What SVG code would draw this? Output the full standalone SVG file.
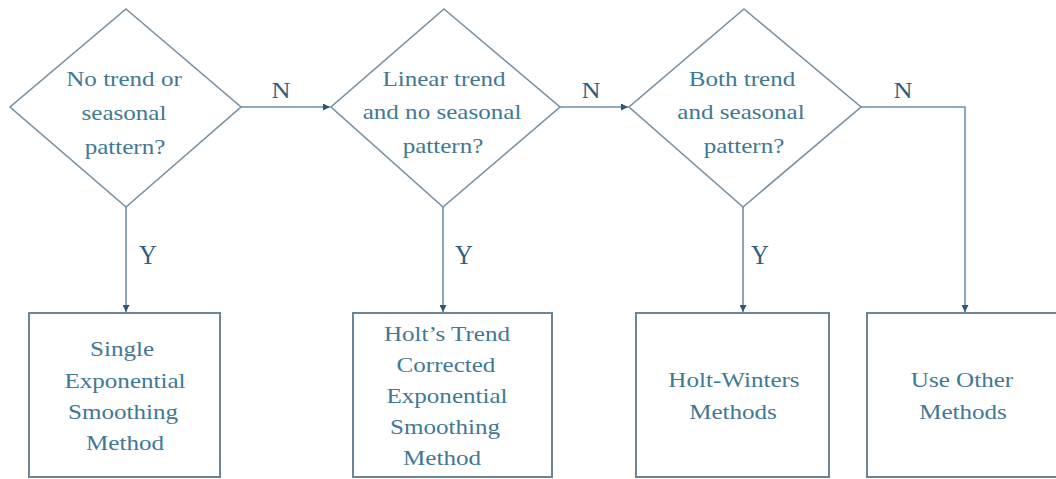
<svg xmlns="http://www.w3.org/2000/svg" width="1056" height="479" viewBox="0 0 1056 479">
<defs>
<marker id="arr" viewBox="0 0 10 10" refX="10" refY="5" markerWidth="8" markerHeight="7" markerUnits="userSpaceOnUse" orient="auto">
<path d="M0,0 L10,5 L0,10 Z" fill="#2c5877"/>
</marker>
<style>
.shape{fill:#ffffff;stroke:#7890a4;stroke-width:1.6}
.box{fill:#ffffff;stroke:#6d8599;stroke-width:2}
.conn{fill:none;stroke:#6f8ea6;stroke-width:1.6}
.t{font-family:"Liberation Serif","Times New Roman",serif;font-size:22px;fill:#3f7994;text-anchor:middle}
.lbl{font-family:"Liberation Serif","Times New Roman",serif;fill:#2f5f7d;text-anchor:middle}
</style>
</defs>
<rect width="1056" height="479" fill="#ffffff"/>

<g id="connectors">
<path class="conn" d="M241,107 H330" marker-end="url(#arr)"/>
<path class="conn" d="M560,107 H628" marker-end="url(#arr)"/>
<path class="conn" d="M861,107 H965 V312" marker-end="url(#arr)"/>
<path class="conn" d="M126,207 V312" marker-end="url(#arr)"/>
<path class="conn" d="M443,207 V312" marker-end="url(#arr)"/>
<path class="conn" d="M743,207 V312" marker-end="url(#arr)"/>
<text class="lbl" font-size="24" transform="matrix(1.1 0 0 1 281 98)">N</text>
<text class="lbl" font-size="24" transform="matrix(1.1 0 0 1 591 98)">N</text>
<text class="lbl" font-size="24" transform="matrix(1.1 0 0 1 903 98)">N</text>
<text class="lbl" font-size="28" transform="matrix(0.88 0 0 1 148 264)">Y</text>
<text class="lbl" font-size="28" transform="matrix(0.88 0 0 1 464 264)">Y</text>
<text class="lbl" font-size="28" transform="matrix(0.88 0 0 1 760 264)">Y</text>
</g>

<g id="d1">
<polygon class="shape" points="126,9 241,107 126,207 10,107"/>
<text class="t" transform="matrix(1.14 0 0 1 124 86)">No trend or</text>
<text class="t" transform="matrix(1.14 0 0 1 124 120)">seasonal</text>
<text class="t" transform="matrix(1.14 0 0 1 125 154)">pattern?</text>
</g>

<g id="d2">
<polygon class="shape" points="444,9 560,107 443,207 331,107"/>
<text class="t" transform="matrix(1.14 0 0 1 444 86)">Linear trend</text>
<text class="t" transform="matrix(1.14 0 0 1 442 119)">and no seasonal</text>
<text class="t" transform="matrix(1.14 0 0 1 443 153)">pattern?</text>
</g>

<g id="d3">
<polygon class="shape" points="744,9 861,107 743,207 629,107"/>
<text class="t" transform="matrix(1.14 0 0 1 742 86)">Both trend</text>
<text class="t" transform="matrix(1.14 0 0 1 741 119)">and seasonal</text>
<text class="t" transform="matrix(1.14 0 0 1 744 153)">pattern?</text>
</g>

<g id="b1">
<rect class="box" x="29" y="313" width="191" height="164"/>
<text class="t" transform="matrix(1.14 0 0 1 122 356)">Single</text>
<text class="t" transform="matrix(1.14 0 0 1 125 388)">Exponential</text>
<text class="t" transform="matrix(1.14 0 0 1 123 419)">Smoothing</text>
<text class="t" transform="matrix(1.14 0 0 1 125 450)">Method</text>
</g>

<g id="b2">
<rect class="box" x="353" y="313" width="199" height="164"/>
<text class="t" transform="matrix(1.14 0 0 1 447 341)">Holt’s Trend</text>
<text class="t" transform="matrix(1.14 0 0 1 446 372)">Corrected</text>
<text class="t" transform="matrix(1.14 0 0 1 447 403)">Exponential</text>
<text class="t" transform="matrix(1.14 0 0 1 445 434)">Smoothing</text>
<text class="t" transform="matrix(1.14 0 0 1 442 465)">Method</text>
</g>

<g id="b3">
<rect class="box" x="636" y="313" width="193" height="164"/>
<text class="t" transform="matrix(1.14 0 0 1 734 387)">Holt-Winters</text>
<text class="t" transform="matrix(1.14 0 0 1 733 419)">Methods</text>
</g>

<g id="b4">
<rect class="box" x="867" y="313" width="194" height="164"/>
<text class="t" transform="matrix(1.14 0 0 1 962 387)">Use Other</text>
<text class="t" transform="matrix(1.14 0 0 1 963 419)">Methods</text>
</g>
</svg>
